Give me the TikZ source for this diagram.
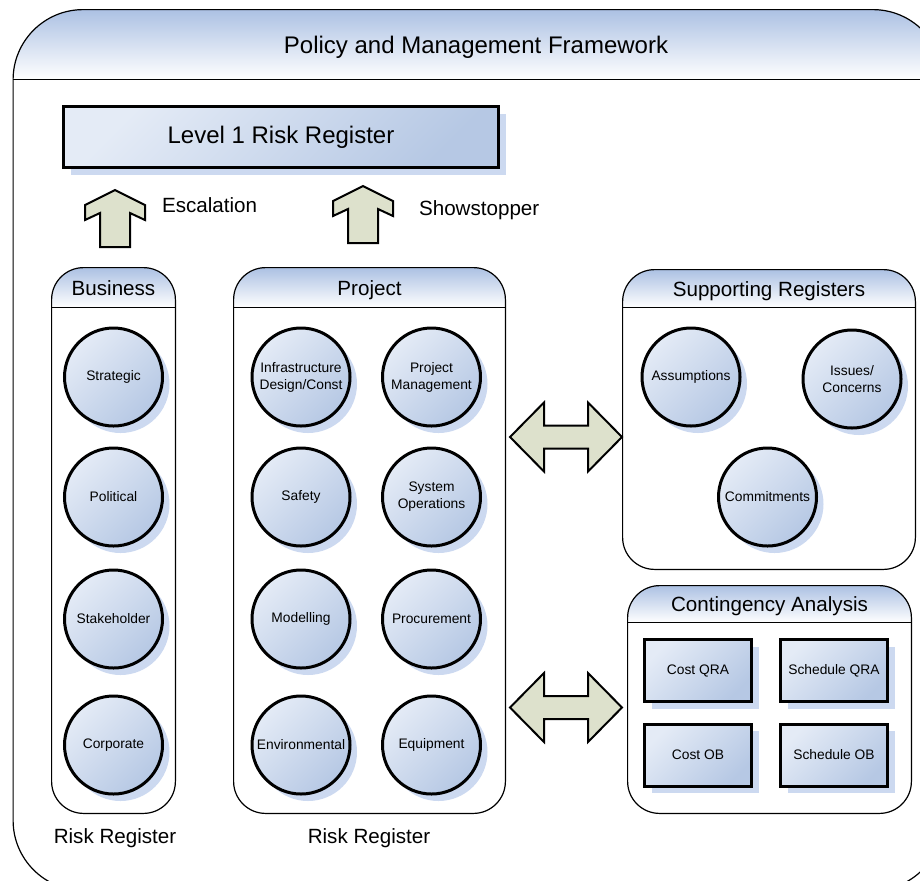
\documentclass[tikz,border=0pt]{standalone}
\usepackage{fontspec}
\setmainfont{Liberation Sans}
\usetikzlibrary{shadows}

\definecolor{hdblue}{RGB}{172,193,227}
\definecolor{filllight}{RGB}{228,235,246}
\definecolor{filldark}{RGB}{182,200,228}
\definecolor{shadowblue}{RGB}{204,217,240}
\definecolor{arrowgreen}{RGB}{221,225,204}

\tikzset{
	panel/.style={rectangle, inner sep=0pt},
	headtext/.style={font=\fontsize{10.3}{12}\selectfont},
	bluefill/.style={top color=filllight, bottom color=filldark, shading angle=45,
		drop shadow={shadow xshift=3.5pt, shadow yshift=-3.5pt, fill=shadowblue, opacity=1}},
	bubble/.style={circle, draw, line width=1.5pt, minimum size=49pt, inner sep=0pt,
		align=center, font=\fontsize{6.9}{8.5}\selectfont, bluefill},
	regbox/.style={rectangle, draw, line width=1.5pt, minimum width=53.5pt, minimum height=31pt,
		inner sep=0pt, align=center, font=\fontsize{6.9}{8.5}\selectfont, bluefill},
	bigarrow/.style={draw, line width=1pt, fill=arrowgreen, line join=miter}
}

\begin{document}
\begin{tikzpicture}[x=0.5pt,y=-0.5pt]
	\useasboundingbox (0,0) rectangle (920,880);

	% frame and panels
	\node[panel, minimum width=464.5pt, minimum height=440pt] (frame) at (478,450) {};
	\node[panel, minimum width=61.5pt, minimum height=272.5pt] (business) at (113.5,540.5) {};
	\node[panel, minimum width=135.5pt, minimum height=272.5pt] (project) at (369.5,540.5) {};
	\node[panel, minimum width=146pt, minimum height=149.5pt] (support) at (769,419.5) {};
	\node[panel, minimum width=141.5pt, minimum height=113.5pt] (contingency) at (769.5,699.5) {};

	\foreach \p/\h/\r in {frame/35pt/35pt, business/20pt/16pt, project/20pt/16pt, support/19pt/16pt, contingency/18.5pt/16pt}{
		\begin{scope}
			\clip[rounded corners=\r] (\p.south west) rectangle (\p.north east);
			\shade[top color=hdblue, bottom color=white] (\p.north west) rectangle ([yshift=-\h]\p.north east);
		\end{scope}
		\draw[line width=0.6pt] ([yshift=-\h]\p.north west) -- ([yshift=-\h]\p.north east);
		\draw[line width=0.6pt, rounded corners=\r] (\p.south west) rectangle (\p.north east);
	}

	\node[font=\fontsize{12}{14}\selectfont] (frametitle) at (476,47) {Policy and Management Framework};

	% level 1 register
	\node[regbox, minimum width=217.5pt, minimum height=30.5pt, font=\fontsize{12}{14}\selectfont] (level1) at (281,137) {Level 1 Risk Register};

	% escalation arrows
	\coordinate (esctip) at (115,190);
	\coordinate (showtip) at (363,186);
	\draw[bigarrow] (esctip) -- ++(-30,15) -- ++(0,15) -- ++(15,-7) -- ++(0,34) -- ++(30,0) -- ++(0,-34) -- ++(15,7) -- ++(0,-15) -- cycle;
	\draw[bigarrow] (showtip) -- ++(-30,15) -- ++(0,15) -- ++(15,-7) -- ++(0,34) -- ++(30,0) -- ++(0,-34) -- ++(15,7) -- ++(0,-15) -- cycle;
	\node[headtext, anchor=west] (esc) at (155,205) {Escalation};
	\node[headtext, anchor=west] (show) at (412,210) {Showstopper};

	% business register
	\node[headtext] (businesstitle) at (113.5,288) {Business};
	\node[bubble] (strategic) at (113.5,377) {Strategic};
	\node[bubble] (political) at (113.5,497) {Political};
	\node[bubble] (stakeholder) at (113.5,619) {Stakeholder};
	\node[bubble] (corporate) at (113.5,745) {Corporate};
	\node[headtext] (businesslabel) at (115,838) {Risk Register};

	% project register
	\node[headtext] (projecttitle) at (369.5,290) {Project};
	\node[bubble] (infra) at (301,377) {Infrastructure\\Design/Const};
	\node[bubble] (projman) at (431.5,377) {Project\\Management};
	\node[bubble] (safety) at (301,497) {Safety};
	\node[bubble] (sysops) at (431.5,497) {System\\Operations};
	\node[bubble] (modelling) at (301,619) {Modelling};
	\node[bubble] (procure) at (431.5,619) {Procurement};
	\node[bubble] (environ) at (301,745) {Environmental};
	\node[bubble] (equip) at (431.5,745) {Equipment};
	\node[headtext] (projectlabel) at (369,838) {Risk Register};

	% supporting registers
	\node[headtext] (supporttitle) at (769,291) {Supporting Registers};
	\node[bubble] (assume) at (691,377) {Assumptions};
	\node[bubble] (issues) at (852,379) {Issues/\\Concerns};
	\node[bubble] (commit) at (767.5,497) {Commitments};

	% contingency analysis
	\node[headtext] (contingencytitle) at (769.5,606) {Contingency Analysis};
	\node[regbox] (costqra) at (698,670.5) {Cost QRA};
	\node[regbox] (schedqra) at (834,670.5) {Schedule QRA};
	\node[regbox] (costob) at (698,755) {Cost OB};
	\node[regbox] (schedob) at (834,755) {Schedule OB};

	% links between panels
	\coordinate (supportlink) at (566,437);
	\coordinate (contlink) at (566,707.5);
	\draw[bigarrow] ([xshift=-28pt]supportlink) -- ++(34,-34.5) -- ++(0,23) -- ++(44,0) -- ++(0,-23) -- ++(34,34.5) -- ++(-34,34.5) -- ++(0,-23) -- ++(-44,0) -- ++(0,23) -- cycle;
	\draw[bigarrow] ([xshift=-28pt]contlink) -- ++(34,-34.5) -- ++(0,23) -- ++(44,0) -- ++(0,-23) -- ++(34,34.5) -- ++(-34,34.5) -- ++(0,-23) -- ++(-44,0) -- ++(0,23) -- cycle;

\end{tikzpicture}
\end{document}
